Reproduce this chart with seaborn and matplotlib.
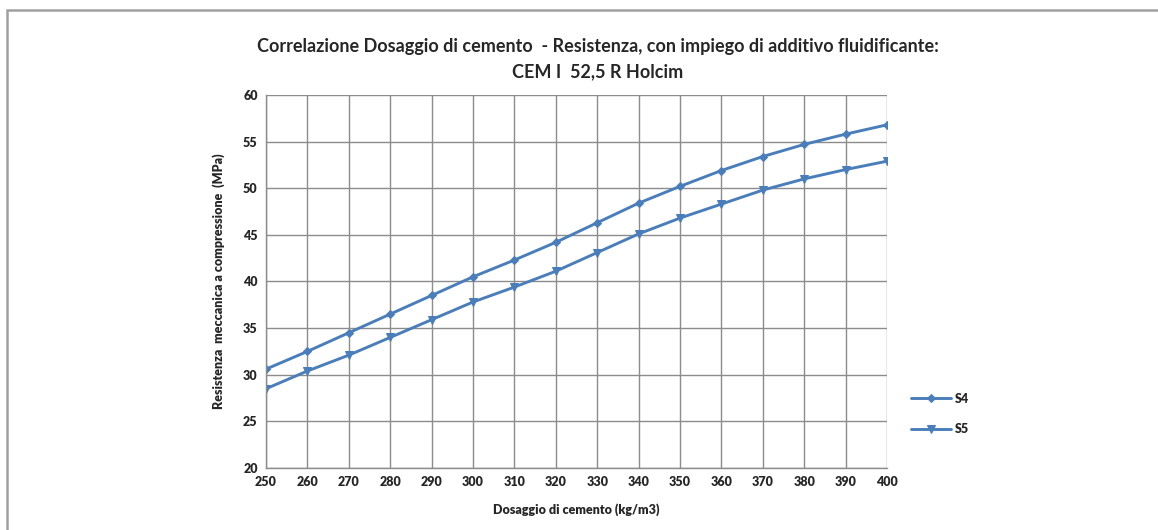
import matplotlib
matplotlib.use("Agg")
import matplotlib.pyplot as plt
import seaborn as sns
import pandas as pd
from matplotlib.patches import Rectangle

# Cement dosage (kg/m3) and compressive strength (MPa) for the two series
dosaggio = [250, 260, 270, 280, 290, 300, 310, 320, 330, 340, 350, 360, 370, 380, 390, 400]
s4 = [30.6, 32.5, 34.5, 36.5, 38.5, 40.5, 42.3, 44.2, 46.3, 48.4, 50.2, 51.9, 53.4, 54.7, 55.8, 56.8]
s5 = [28.5, 30.4, 32.1, 34.0, 35.9, 37.8, 39.4, 41.1, 43.1, 45.1, 46.8, 48.3, 49.8, 51.0, 52.0, 52.9]
serie = ["S4", "S5"]
y_ticks = [20, 25, 30, 35, 40, 45, 50, 55, 60]

df = pd.DataFrame({
    "dosaggio": dosaggio * 2,
    "resistenza": s4 + s5,
    "serie": [serie[0]] * len(s4) + [serie[1]] * len(s5),
})

sns.set_style("white")
plt.rcParams["font.family"] = ["Lato", "DejaVu Sans"]
plt.rcParams["font.weight"] = "bold"

fig = plt.figure(figsize=(11.58, 5.30), dpi=100)
ax = fig.add_axes([0.2297, 0.117, 0.5363, 0.7038])

blue = "#4a7ebb"
sns.lineplot(data=df, x="dosaggio", y="resistenza", hue="serie", style="serie",
             markers={"S4": "D", "S5": "v"}, dashes=False,
             palette={"S4": blue, "S5": blue}, linewidth=2.1,
             markersize=5, markeredgecolor=blue, ax=ax)

# Diamonds a little smaller, triangles a little larger
sizes = {"S4": 4.2, "S5": 5.8}
for line in ax.get_lines():
    if line.get_marker() == "D":
        line.set_markersize(sizes["S4"])
    elif line.get_marker() == "v":
        line.set_markersize(sizes["S5"])

ax.set_xlim(250, 400)
ax.set_ylim(20, 60)
ax.set_xticks(dosaggio)
ax.set_yticks(y_ticks)
ax.grid(True, color="#8c8c8c", linewidth=1.0)
ax.set_axisbelow(True)
for side in ["top", "right"]:
    ax.spines[side].set_visible(False)
for side in ["left", "bottom"]:
    ax.spines[side].set_color("#8c8c8c")
    ax.spines[side].set_linewidth(1.0)
ax.tick_params(axis="both", direction="out", length=4, width=1, color="#8c8c8c",
               labelsize=9, pad=2)
for lab in ax.get_xticklabels() + ax.get_yticklabels():
    lab.set_fontweight("heavy")

ax.set_xlabel("Dosaggio di cemento (kg/m3)", fontsize=9, fontweight="heavy", labelpad=11)
ax.set_ylabel("Resistenza  meccanica a compressione  (MPa)", fontsize=9,
              fontweight="heavy", labelpad=13)

leg = ax.legend(loc="center left", bbox_to_anchor=(1.02, 0.145), frameon=False,
                fontsize=9, handlelength=3.2, labelspacing=1.5, handletextpad=0.3)
for t in leg.get_texts():
    t.set_fontweight("heavy")
for h in leg.legend_handles:
    if h.get_marker() == "D":
        h.set_markersize(sizes["S4"])
    elif h.get_marker() == "v":
        h.set_markersize(sizes["S5"])

fig.text(0.516, 0.913, "Correlazione Dosaggio di cemento  - Resistenza, con impiego di additivo fluidificante:",
         ha="center", va="center", fontsize=13, fontweight="bold")
fig.text(0.516, 0.864, "CEM I  52,5 R Holcim", ha="center", va="center",
         fontsize=13, fontweight="bold")

# Chart-area frame
fig.patches.append(Rectangle((0.006, -0.05), 1.2, 1.031, transform=fig.transFigure,
                             fill=False, edgecolor="#a0a0a0", linewidth=1.8))

fig.savefig("out.png", dpi=100)
